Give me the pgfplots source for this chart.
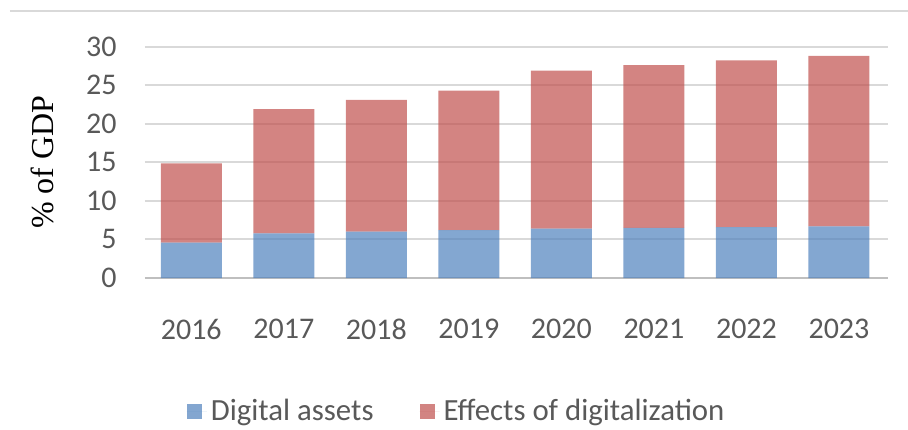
\documentclass[border=0pt]{standalone}
\usepackage{fontspec}
\setmainfont{Carlito}
\newfontfamily\timesfont{Liberation Serif}
\usepackage{pgfplots}
\pgfplotsset{compat=1.18}
\definecolor{digblue}{RGB}{79,129,189}
\definecolor{effred}{RGB}{192,80,77}
\definecolor{ticktxt}{RGB}{89,89,89}
\definecolor{gridc}{RGB}{217,217,217}
\definecolor{axisc}{RGB}{191,191,191}
\begin{document}
\begin{tikzpicture}
\begin{axis}[
  name=ax,
  scale only axis,
  width=371.5pt, height=115.7pt,
  ybar stacked,
  bar width=30.5pt,
  xmin=-0.5, xmax=7.53,
  ymin=0, ymax=30,
  ytick={0,5,10,15,20,25,30},
  xtick=data,
  xticklabels={2016,2017,2018,2019,2020,2021,2022,2023},
  /pgf/number format/assume math mode=true,
  ymajorgrids,
  major grid style={gridc, line width=1pt},
  axis x line*=bottom,
  axis y line*=left,
  y axis line style={draw=none},
  x axis line style={axisc, line width=1pt, -},
  major tick length=0pt,
  tick style={draw=none},
  xticklabel style={font=\fontsize{15}{17}\selectfont, text=ticktxt, anchor=north, inner sep=0pt, yshift=-20.5pt},
  yticklabel style={font=\fontsize{15}{17}\selectfont, text=ticktxt, anchor=east, inner sep=0pt, xshift=-14pt},
  ylabel={\timesfont\% of GDP},
  every axis y label/.style={at={(axis description cs:0,0.5)}, xshift=-51.5pt, rotate=90, anchor=center, font=\fontsize{16}{18}\selectfont},
  legend style={at={(axis description cs:0.5,0)}, xshift=-29.4pt, yshift=-66.5pt, anchor=center, draw=none, legend columns=2,
    font=\fontsize{15.4}{17}\selectfont, text=ticktxt,
    /tikz/every even column/.append style={column sep=21pt}},
  legend image code/.code={\path (0pt,0pt) -- (10pt,0pt); \fill[#1,draw=none] (0pt,-3.75pt) rectangle (7.5pt,3.75pt);},
]
\addplot[fill=digblue, fill opacity=0.7, draw=none] coordinates {
  (0,4.6) (1,5.8) (2,6.0) (3,6.2) (4,6.4) (5,6.5) (6,6.6) (7,6.7)};
\addlegendentry{Digital assets}
\addplot[fill=effred, fill opacity=0.7, draw=none] coordinates {
  (0,10.25) (1,16.1) (2,17.1) (3,18.1) (4,20.5) (5,21.1) (6,21.6) (7,22.1)};
\addlegendentry{Effects of digitalization}
\end{axis}
\draw[gridc, line width=1pt] ([shift={(-67.5pt,133.5pt)}]ax.south west) -- ([shift={(381.5pt,133.5pt)}]ax.south west);
\pgfresetboundingbox
\path[use as bounding box] ([shift={(-72.5pt,-75.5pt)}]ax.south west) rectangle ([shift={(381.5pt,139pt)}]ax.south west);
\end{tikzpicture}
\end{document}
